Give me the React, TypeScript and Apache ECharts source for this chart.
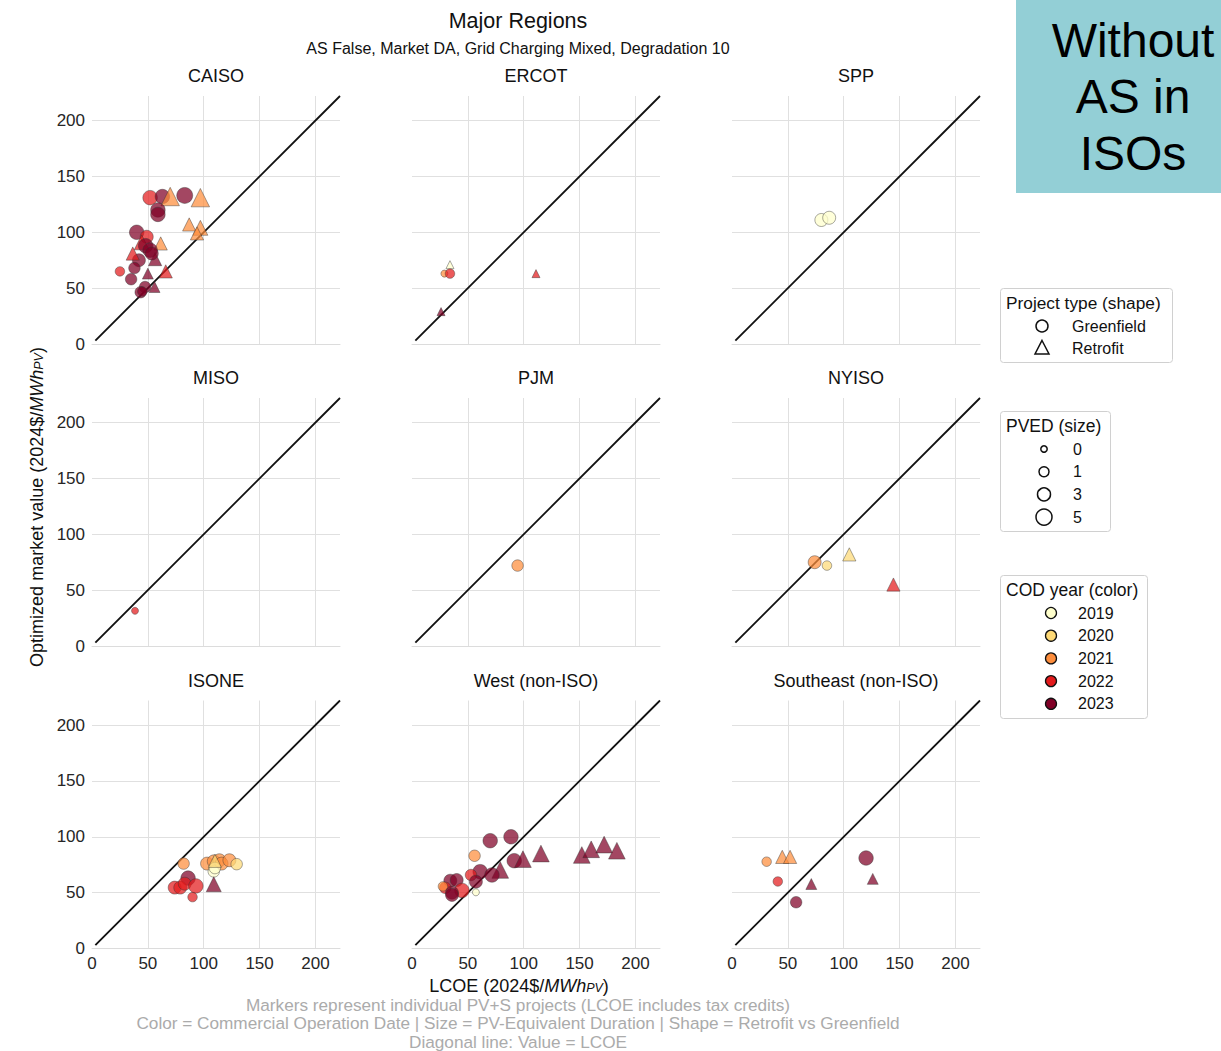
import React, { useEffect, useRef } from "react";
import * as echarts from "echarts";

// ---------- DATA ----------
// point: [LCOE, market value, PVED, COD year, type (G = Greenfield, R = Retrofit)]
type Pt = [number, number, number, number, string];

const caiso: Pt[] = [
  [52, 131, 4, 2022, "G"], [63, 132, 4, 2023, "G"], [70, 132, 5, 2021, "R"],
  [83, 133, 5, 2023, "G"], [97, 131, 5, 2021, "R"], [59, 120, 4, 2023, "G"],
  [59, 116, 4, 2023, "G"], [87, 107, 2, 2021, "R"], [97, 104, 3, 2021, "R"],
  [94, 99, 2, 2021, "R"], [40, 100, 4, 2023, "G"], [49, 96, 3, 2022, "G"],
  [44.5, 91, 3, 2022, "R"], [61.5, 90, 2, 2021, "R"], [48, 88, 4, 2023, "G"],
  [52, 84, 4, 2023, "G"], [42, 75, 3, 2023, "G"], [36.5, 81, 2, 2022, "R"],
  [56.5, 76, 2, 2023, "R"], [53.5, 81, 3, 2023, "G"], [38, 68, 2, 2023, "G"],
  [25, 65, 1, 2022, "G"], [50, 63, 1, 2023, "R"], [66, 65, 2, 2022, "R"],
  [35, 58, 2, 2023, "G"], [47.5, 51, 2, 2023, "G"], [56, 51, 1, 2023, "R"],
  [43.6, 46.4, 2, 2023, "G"], [45, 47, 1, 2023, "G"],
];
const ercot: Pt[] = [
  [34, 71, 0, 2019, "R"], [29, 63, 0, 2021, "G"], [34, 63, 1, 2022, "G"],
  [111, 63, 0, 2022, "R"], [26, 29, 0, 2023, "R"],
];
const spp: Pt[] = [[80, 111, 3, 2019, "G"], [87, 113, 3, 2019, "G"]];
const miso: Pt[] = [[38.5, 31.5, 0, 2022, "G"]];
const pjm: Pt[] = [[94.5, 72, 2, 2021, "G"]];
const nyiso: Pt[] = [
  [74, 75, 3, 2021, "G"], [85, 72, 1, 2020, "G"], [105, 82, 2, 2020, "R"],
  [144.5, 55, 2, 2022, "R"],
];
const isone: Pt[] = [
  [82, 76, 2, 2021, "G"], [103, 76, 3, 2021, "G"], [109, 78, 3, 2021, "G"],
  [114, 79, 3, 2021, "G"], [116, 76, 3, 2021, "G"], [123, 79, 3, 2021, "G"],
  [129.5, 75.5, 2, 2020, "G"], [109, 69, 2, 2019, "G"], [110, 72, 2, 2019, "G"],
  [110, 78.5, 2, 2020, "R"], [86, 63, 4, 2023, "G"], [74, 54.5, 3, 2022, "G"],
  [79, 54.5, 3, 2022, "G"], [83, 58, 3, 2022, "G"], [93, 56, 4, 2022, "G"],
  [90, 46, 1, 2022, "G"], [109, 57.5, 3, 2023, "R"],
];
const west: Pt[] = [
  [70, 96.5, 4, 2023, "G"], [88.6, 100, 4, 2023, "G"], [56, 83, 2, 2021, "G"],
  [91.5, 78.6, 4, 2023, "G"], [99.3, 80, 4, 2023, "R"], [115.4, 85, 4, 2023, "R"],
  [152, 83.7, 4, 2023, "R"], [160.4, 88.8, 4, 2023, "R"], [172, 93, 4, 2023, "R"],
  [183.4, 87.5, 4, 2023, "R"], [61, 68.8, 4, 2023, "G"], [79, 70.3, 4, 2023, "R"],
  [71.6, 65.8, 4, 2023, "G"], [52.8, 65.8, 2, 2022, "G"], [57.2, 59.8, 3, 2023, "G"],
  [57.2, 50.3, 0, 2019, "G"], [34.3, 60.7, 3, 2023, "G"], [40, 61.3, 3, 2023, "G"],
  [44.7, 52, 4, 2022, "G"], [29.8, 54.3, 2, 2022, "G"], [27.7, 55.6, 1, 2021, "G"],
  [35.8, 50, 3, 2023, "G"], [35.8, 48, 3, 2023, "G"],
];
const southeast: Pt[] = [
  [31, 77.7, 1, 2021, "G"], [45, 82, 2, 2021, "R"], [52, 82, 2, 2021, "R"],
  [41, 60, 1, 2022, "G"], [71, 57.7, 1, 2023, "R"], [57.4, 41.4, 2, 2023, "G"],
  [120, 81, 4, 2023, "G"], [126, 62.3, 1, 2023, "R"],
];

const regionNames = ["CAISO", "ERCOT", "SPP", "MISO", "PJM", "NYISO", "ISONE", "West (non-ISO)", "Southeast (non-ISO)"];
const regionData = [caiso, ercot, spp, miso, pjm, nyiso, isone, west, southeast];

const years = [2019, 2020, 2021, 2022, 2023];
const yearColors = ["#ffffcc", "#fed976", "#fd8d3c", "#e31a1c", "#800026"];
const pvedLegend = [0, 1, 3, 5];
const tickValues = [0, 50, 100, 150, 200];
const diagonal = [[3, 3], [222, 222]];

// ---------- LAYOUT ----------
const FONT = "Liberation Sans, Arial, sans-serif";
const colLeft = [92, 412, 732];
const rowTop = [96, 398, 700.5];
const PSIZE = 248;
const AXMAX = 222;
const pvedDiam = [7, 9.5, 11.5, 13, 14.5, 16];

function colorOf(y: number) {
  return yearColors[years.indexOf(y)];
}

export default function App() {
  const ref = useRef<HTMLDivElement>(null);
  useEffect(() => {
    if (!ref.current) return;
    const chart = echarts.init(ref.current, undefined, { renderer: "svg" });

    const grids: any[] = [];
    const xAxes: any[] = [];
    const yAxes: any[] = [];
    const series: any[] = [];
    const graphics: any[] = [];

    regionData.forEach((pts, i) => {
      const r = Math.floor(i / 3);
      const c = i % 3;
      grids.push({ left: colLeft[c], top: rowTop[r], width: PSIZE, height: PSIZE });
      xAxes.push({
        type: "value", gridIndex: i, min: 0, max: AXMAX, interval: 50,
        axisLine: { show: true, lineStyle: { color: "#dcdcdc", width: 1 } },
        axisTick: { show: false },
        axisLabel: {
          show: r === 2, fontSize: 17, color: "#262626", fontFamily: FONT, margin: 6,
          showMaxLabel: false,
          formatter: (v: number) => (tickValues.includes(v) ? String(v) : ""),
        },
        splitLine: { show: true, showMinLine: false, showMaxLine: false, lineStyle: { color: "#e0e0e0", width: 1 } },
      });
      yAxes.push({
        type: "value", gridIndex: i, min: 0, max: AXMAX, interval: 50,
        axisLine: { show: false },
        axisTick: { show: false },
        axisLabel: {
          show: c === 0, fontSize: 17, color: "#262626", fontFamily: FONT, margin: 7,
          showMaxLabel: false,
          formatter: (v: number) => (tickValues.includes(v) ? String(v) : ""),
        },
        splitLine: { show: true, showMaxLine: false, lineStyle: { color: "#e0e0e0", width: 1 } },
      });
      series.push({
        type: "line", xAxisIndex: i, yAxisIndex: i, data: diagonal, symbol: "none",
        lineStyle: { color: "#111111", width: 1.8 }, silent: true, z: 1,
      });
      series.push({
        type: "scatter", xAxisIndex: i, yAxisIndex: i, z: 2,
        data: pts.map((p) => ({
          value: [p[0], p[1]],
          symbol: p[4] === "R" ? "triangle" : "circle",
          symbolSize: pvedDiam[p[2]] * (p[4] === "R" ? 1.15 : 1),
          itemStyle: { color: colorOf(p[3]), opacity: 0.72, borderColor: "#333333", borderWidth: 0.6 },
        })),
      });
      graphics.push({
        type: "text", x: colLeft[c] + PSIZE / 2, y: rowTop[r] - 20,
        style: { text: regionNames[i], fontSize: 18, fontFamily: FONT, fill: "#111", align: "center", verticalAlign: "middle" },
      });
    });

    // titles
    graphics.push({
      type: "text", x: 518, y: 21,
      style: { text: "Major Regions", fontSize: 21.5, fontFamily: FONT, fill: "#111", align: "center", verticalAlign: "middle" },
    });
    graphics.push({
      type: "text", x: 518, y: 48,
      style: { text: "AS False, Market DA, Grid Charging Mixed, Degradation 10", fontSize: 16, fontFamily: FONT, fill: "#111", align: "center", verticalAlign: "middle" },
    });
    const richLbl = {
      a: { fontSize: 18, fontFamily: FONT, fill: "#111", verticalAlign: "bottom", lineHeight: 21 },
      b: { fontSize: 18, fontFamily: FONT, fill: "#111", fontStyle: "italic", verticalAlign: "bottom", lineHeight: 21 },
      c: { fontSize: 12.5, fontFamily: FONT, fill: "#111", fontStyle: "italic", verticalAlign: "bottom", lineHeight: 8 },
    };
    graphics.push({
      type: "text", x: 519, y: 984,
      style: { text: "{a|LCOE (2024$/}{b|MWh}{c|PV}{a|)}", rich: richLbl, align: "center", verticalAlign: "middle" },
    });
    graphics.push({
      type: "text", x: 35, y: 507, rotation: Math.PI / 2,
      style: { text: "{a|Optimized market value (2024$/}{b|MWh}{c|PV}{a|)}", rich: richLbl, align: "center", verticalAlign: "middle" },
    });
    const captions = [
      "Markers represent individual PV+S projects (LCOE includes tax credits)",
      "Color = Commercial Operation Date | Size = PV-Equivalent Duration | Shape = Retrofit vs Greenfield",
      "Diagonal line: Value = LCOE",
    ];
    captions.forEach((t, k) => {
      graphics.push({
        type: "text", x: 518, y: 1004.5 + k * 18.5,
        style: { text: t, fontSize: 17.2, fontFamily: FONT, fill: "#ababab", align: "center", verticalAlign: "middle" },
      });
    });

    // legend boxes
    const box = (x: number, y: number, w: number, h: number) => ({
      type: "rect", shape: { x, y, width: w, height: h, r: 3 },
      style: { fill: "#fff", stroke: "#d0d0d0", lineWidth: 1 },
    });
    const ltxt = (x: number, y: number, t: string, fs = 16) => ({
      type: "text", x, y,
      style: { text: t, fontSize: fs, fontFamily: FONT, fill: "#111", align: "left", verticalAlign: "middle" },
    });
    // Project type
    graphics.push(box(1000.5, 288.5, 172, 74));
    graphics.push(ltxt(1006, 303, "Project type (shape)", 17.3));
    graphics.push({ type: "circle", shape: { cx: 1042, cy: 326, r: 6 }, style: { fill: "#fff", stroke: "#111", lineWidth: 1.5 } });
    graphics.push(ltxt(1072, 326, "Greenfield"));
    graphics.push({ type: "polygon", shape: { points: [[1042, 340.5], [1049, 354], [1035, 354]] }, style: { fill: "#fff", stroke: "#111", lineWidth: 1.5 } });
    graphics.push(ltxt(1072, 348, "Retrofit"));
    // PVED
    graphics.push(box(1000.5, 411.5, 110, 120));
    graphics.push(ltxt(1006, 426, "PVED (size)", 17.5));
    pvedLegend.forEach((p, k) => {
      const cy = 449 + k * 22.7;
      graphics.push({ type: "circle", shape: { cx: 1044, cy, r: [3.2, 5, 6.5, 8][k] }, style: { fill: "#fff", stroke: "#111", lineWidth: 1.5 } });
      graphics.push(ltxt(1073, cy, String(p)));
    });
    // COD year
    graphics.push(box(1000.5, 575.5, 147, 143));
    graphics.push(ltxt(1006, 590, "COD year (color)", 17.5));
    years.forEach((yr, k) => {
      const cy = 613 + k * 22.7;
      graphics.push({ type: "circle", shape: { cx: 1051, cy, r: 5.5 }, style: { fill: yearColors[k], stroke: "#111", lineWidth: 1.3 } });
      graphics.push(ltxt(1078, cy, String(yr)));
    });

    // teal badge
    graphics.push({ type: "rect", shape: { x: 1016, y: 0, width: 205, height: 193 }, style: { fill: "#93cfd6" } });
    ["Without", "AS in", "ISOs"].forEach((t, k) => {
      graphics.push({
        type: "text", x: 1133, y: 40 + k * 56.5,
        style: { text: t, fontSize: 48, fontFamily: FONT, fill: "#000", align: "center", verticalAlign: "middle" },
      });
    });

    chart.setOption({
      animation: false,
      backgroundColor: "#ffffff",
      grid: grids,
      xAxis: xAxes,
      yAxis: yAxes,
      series,
      graphic: graphics,
    });
    return () => chart.dispose();
  }, []);
  return <div ref={ref} style={{ position: "absolute", left: 0, top: 0, width: 1221, height: 1051 }} />;
}
